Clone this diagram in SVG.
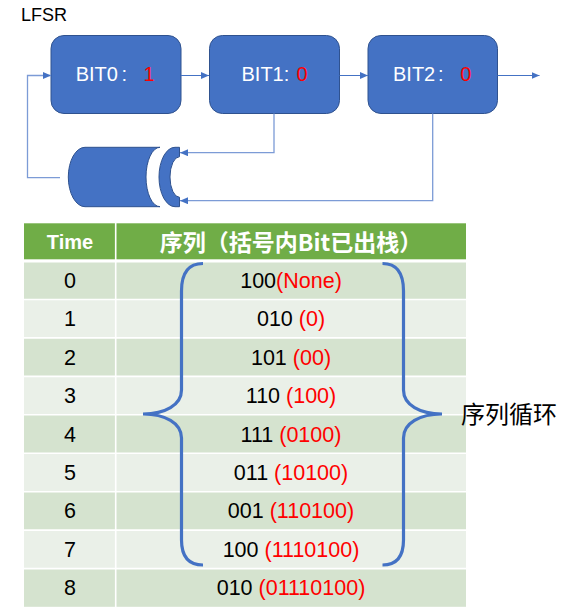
<svg xmlns="http://www.w3.org/2000/svg" width="561" height="610" viewBox="0 0 561 610">
  <style>
    .box { fill: #4472C4; stroke: #2F528F; stroke-width: 1; }
    .lbl { font-family: "Liberation Sans", Arial, sans-serif; font-size: 20px; fill: #FFFFFF; }
    .red { fill: #FF0000; }
    .conn { fill: none; stroke: #4472C4; stroke-width: 1; }
    .conn2 { fill: none; stroke: #7C9BD6; stroke-width: 1.3; }
    .hdr { fill: #70AD47; }
    .even { fill: #D5E3CF; }
    .odd { fill: #EAF0E8; }
    .grid { stroke: #FFFFFF; stroke-width: 1.6; }
    .cell { font-family: "Liberation Sans", Arial, sans-serif; font-size: 21.5px; fill: #000000; text-anchor: middle; }
    .brace { fill: none; stroke: #4472C4; stroke-width: 3.2; }
  </style>
  <defs>
    <marker id="ah" markerWidth="8" markerHeight="7" refX="8" refY="3.5" orient="auto" markerUnits="userSpaceOnUse">
      <path d="M0,0 L8,3.5 L0,7 z" fill="#4472C4"/>
    </marker>
  </defs>
  <rect width="561" height="610" fill="#FFFFFF"/>

  <text x="21" y="20.7" font-family="Liberation Sans, Arial, sans-serif" font-size="18" fill="#000000">LFSR</text>

  <g id="bit0">
    <rect class="box" x="51" y="35.5" width="130" height="78" rx="13"/>
    <text class="lbl" x="75.7" y="81">BIT0<tspan x="121.5">:</tspan><tspan class="red" x="143.5">1</tspan></text>
  </g>
  <g id="bit1">
    <rect class="box" x="209.5" y="35.5" width="130" height="78" rx="13"/>
    <text class="lbl" x="241.5" y="81">BIT1:<tspan class="red" x="296.4">0</tspan></text>
  </g>
  <g id="bit2">
    <rect class="box" x="368" y="35.5" width="129.5" height="78" rx="13"/>
    <text class="lbl" x="393" y="81">BIT2<tspan x="438">:</tspan><tspan class="red" x="460.2">0</tspan></text>
  </g>
  <g id="xor">
    <path class="box" stroke-width="0.8" d="M85,147.3 L160,147.3 A14,29.7 0 0 0 160,206.7 L85,206.7 A16.7,29.7 0 0 1 85,147.3 Z"/>
    <path class="box" stroke-width="0.8" d="M175,147.3 L179.5,147.3 L179.5,156.7 A9.5,20.3 0 0 0 179.5,197.3 L179.5,206.7 L175,206.7 A16,29.7 0 0 1 175,147.3 Z"/>
  </g>

  <g id="connectors">
    <path class="conn" d="M181,75.5 H209" marker-end="url(#ah)"/>
    <path class="conn" d="M339.5,75.5 H368" marker-end="url(#ah)"/>
    <path class="conn" d="M497.5,75.5 H539.5" marker-end="url(#ah)"/>
    <path class="conn2" d="M60,177.7 H27.5 V75.5 H51" marker-end="url(#ah)"/>
    <path class="conn2" d="M274,113.5 V152.7 H180" marker-end="url(#ah)"/>
    <path class="conn2" d="M432.7,113.5 V200.7 H180" marker-end="url(#ah)"/>
  </g>

  <g id="table">
    <rect class="hdr" x="24" y="223.3" width="442" height="36"/>
    <rect class="even" x="24" y="262.5" width="442" height="37.2"/>
    <rect class="odd" x="24" y="299.45" width="442" height="38.45"/>
    <rect class="even" x="24" y="337.9" width="442" height="38.45"/>
    <rect class="odd" x="24" y="376.35" width="442" height="38.45"/>
    <rect class="even" x="24" y="414.8" width="442" height="38.45"/>
    <rect class="odd" x="24" y="453.25" width="442" height="38.45"/>
    <rect class="even" x="24" y="491.7" width="442" height="38.45"/>
    <rect class="odd" x="24" y="530.15" width="442" height="38.45"/>
    <rect class="even" x="24" y="568.6" width="442" height="38.2"/>
    <g class="grid">
      <line x1="24" y1="299.45" x2="466" y2="299.45"/>
      <line x1="24" y1="337.9" x2="466" y2="337.9"/>
      <line x1="24" y1="376.35" x2="466" y2="376.35"/>
      <line x1="24" y1="414.8" x2="466" y2="414.8"/>
      <line x1="24" y1="453.25" x2="466" y2="453.25"/>
      <line x1="24" y1="491.7" x2="466" y2="491.7"/>
      <line x1="24" y1="530.15" x2="466" y2="530.15"/>
      <line x1="24" y1="568.6" x2="466" y2="568.6"/>
      <line x1="115.7" y1="223" x2="115.7" y2="607"/>
    </g>
    <text x="70" y="249.3" font-family="Liberation Sans, Arial, sans-serif" font-size="20" font-weight="bold" fill="#FFFFFF" text-anchor="middle">Time</text>
    <text x="291" y="251" font-family="Noto Sans CJK SC, sans-serif" font-size="23" font-weight="bold" fill="#FFFFFF" text-anchor="middle">序列（括号内Bit已出栈）</text>

    <text class="cell" x="70" y="287.7">0</text>
    <text class="cell" x="70" y="326.2">1</text>
    <text class="cell" x="70" y="364.6">2</text>
    <text class="cell" x="70" y="403.1">3</text>
    <text class="cell" x="70" y="441.5">4</text>
    <text class="cell" x="70" y="480">5</text>
    <text class="cell" x="70" y="518.4">6</text>
    <text class="cell" x="70" y="556.9">7</text>
    <text class="cell" x="70" y="595.3">8</text>

    <text class="cell" x="291" y="287.7">100<tspan class="red">(None)</tspan></text>
    <text class="cell" x="291" y="326.2">010 <tspan class="red">(0)</tspan></text>
    <text class="cell" x="291" y="364.6">101 <tspan class="red">(00)</tspan></text>
    <text class="cell" x="291" y="403.1">110 <tspan class="red">(100)</tspan></text>
    <text class="cell" x="291" y="441.5">111 <tspan class="red">(0100)</tspan></text>
    <text class="cell" x="291" y="480">011 <tspan class="red">(10100)</tspan></text>
    <text class="cell" x="291" y="518.4">001 <tspan class="red">(110100)</tspan></text>
    <text class="cell" x="291" y="556.9">100 <tspan class="red">(1110100)</tspan></text>
    <text class="cell" x="291" y="595.3">010 <tspan class="red">(01110100)</tspan></text>
  </g>

  <g id="braces">
    <path class="brace" d="M203,263.5 Q181.5,263.5 181.5,291 L181.5,390 C181.5,405 165,414 143,414 C165,414 181.5,423 181.5,438 L181.5,540 Q181.5,565 203,565"/>
    <path class="brace" d="M382.5,263.5 Q403.5,263.5 403.5,291 L403.5,390 C403.5,405 420,414 442,414 C420,414 403.5,423 403.5,438 L403.5,540 Q403.5,565 382.5,565"/>
  </g>
  <text x="461" y="423" font-family="Noto Sans CJK SC, sans-serif" font-size="24" fill="#000000">序列循环</text>
</svg>
